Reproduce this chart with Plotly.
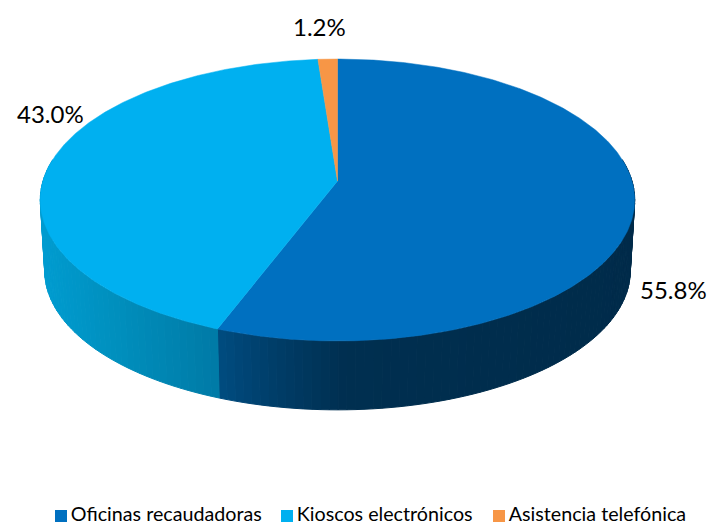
import math
import plotly.graph_objects as go

categories = ["Oficinas recaudadoras", "Kioscos electrónicos", "Asistencia telefónica"]
shares = [55.8, 43.0, 1.2]
top_colors = ["#0070C0", "#00B0F0", "#F79646"]
# side shading stops (screen x, rgb) for each slice wall
side_stops = [
    [(217, (0, 76, 128)), (270, (0, 62, 106)), (345, (0, 47, 80)), (640, (0, 43, 74))],
    [(40, (0, 156, 208)), (120, (0, 142, 188)), (217, (0, 122, 166))],
    [(300, (180, 110, 50)), (340, (180, 110, 50))],
]
label_xy = [(673, 289), (50, 113), (319, 26)]
key_xy = [(61, 516), (287, 516), (499, 516)]

W, H = 708, 527
CX, AY = 337.5, 181.0      # projected pie centre
RX0, RY0, K = 294.5, 138.4, 0.1348   # perspective ellipse
DEPTH, SHRINK = 71.0, 0.985


def rim(deg):
    a = math.radians(deg)
    u, v = math.sin(a), math.cos(a)
    d = 1 + K * v
    return CX + RX0 * u / d, AY - RY0 * v / d


def low(x, y):
    return CX + SHRINK * (x - CX), 200 + DEPTH + SHRINK * (y - 200)


def shade(stops, x):
    if x <= stops[0][0]:
        return "rgb(%d,%d,%d)" % stops[0][1]
    for (x0, c0), (x1, c1) in zip(stops, stops[1:]):
        if x <= x1:
            t = (x - x0) / (x1 - x0)
            return "rgb(%d,%d,%d)" % tuple(round(a + (b - a) * t) for a, b in zip(c0, c1))
    return "rgb(%d,%d,%d)" % stops[-1][1]


fig = go.Figure()

# cumulative angles, clockwise from 12 o'clock
total = sum(shares)
edges = [0.0]
for s in shares:
    edges.append(edges[-1] + 360.0 * s / total)

# walls
for i, s in enumerate(shares):
    a0, a1 = edges[i], edges[i + 1]
    n = max(1, round((a1 - a0) / 1.5))
    for j in range(n):
        b0 = a0 + (a1 - a0) * j / n
        b1 = a0 + (a1 - a0) * (j + 1) / n
        if math.cos(math.radians((b0 + b1) / 2)) > 0.15:
            continue
        p0, p1 = rim(b0), rim(b1)
        q0, q1 = low(*p0), low(*p1)
        col = shade(side_stops[i], (p0[0] + p1[0]) / 2)
        fig.add_trace(go.Scatter(
            x=[p0[0], p1[0], q1[0], q0[0], p0[0]],
            y=[p0[1], p1[1], q1[1], q0[1], p0[1]],
            mode="lines", fill="toself", fillcolor=col,
            line=dict(color=col, width=1), hoverinfo="skip", showlegend=False))

# top faces
for i, s in enumerate(shares):
    a0, a1 = edges[i], edges[i + 1]
    n = max(2, round((a1 - a0) / 0.5))
    pts = [rim(a0 + (a1 - a0) * j / n) for j in range(n + 1)]
    xs = [CX] + [p[0] for p in pts] + [CX]
    ys = [AY] + [p[1] for p in pts] + [AY]
    fig.add_trace(go.Scatter(
        x=xs, y=ys, mode="lines", fill="toself", fillcolor=top_colors[i],
        line=dict(color=top_colors[i], width=0.5),
        name=categories[i], hovertemplate=f"{categories[i]}: {s:.1f}%<extra></extra>",
        showlegend=False))

# percentage labels
for s, (lx, ly) in zip(shares, label_xy):
    fig.add_annotation(x=lx, y=ly, text=f"{s:.1f}%", showarrow=False,
                       font=dict(family="Lato", size=24, color="#000000"))

# legend keys
for c, col, (kx, ky) in zip(categories, top_colors, key_xy):
    fig.add_trace(go.Scatter(x=[kx], y=[ky], mode="markers+text", name=c, text=["\u200a" + c],
                             textposition="middle right",
                             textfont=dict(family="Lato", size=19.7, color="#000000"),
                             marker=dict(symbol="square", size=12, color=col),
                             cliponaxis=False, hoverinfo="skip", showlegend=False))

fig.update_layout(
    width=W, height=H, margin=dict(l=0, r=0, t=0, b=0),
    paper_bgcolor="#FFFFFF", plot_bgcolor="#FFFFFF",
    xaxis=dict(range=[0, W], visible=False, fixedrange=True),
    yaxis=dict(range=[H, 0], visible=False, fixedrange=True),
    showlegend=False,
)

fig.write_html("out.html", config=dict(displayModeBar=False),
               post_script="document.body.style.margin='0';")
